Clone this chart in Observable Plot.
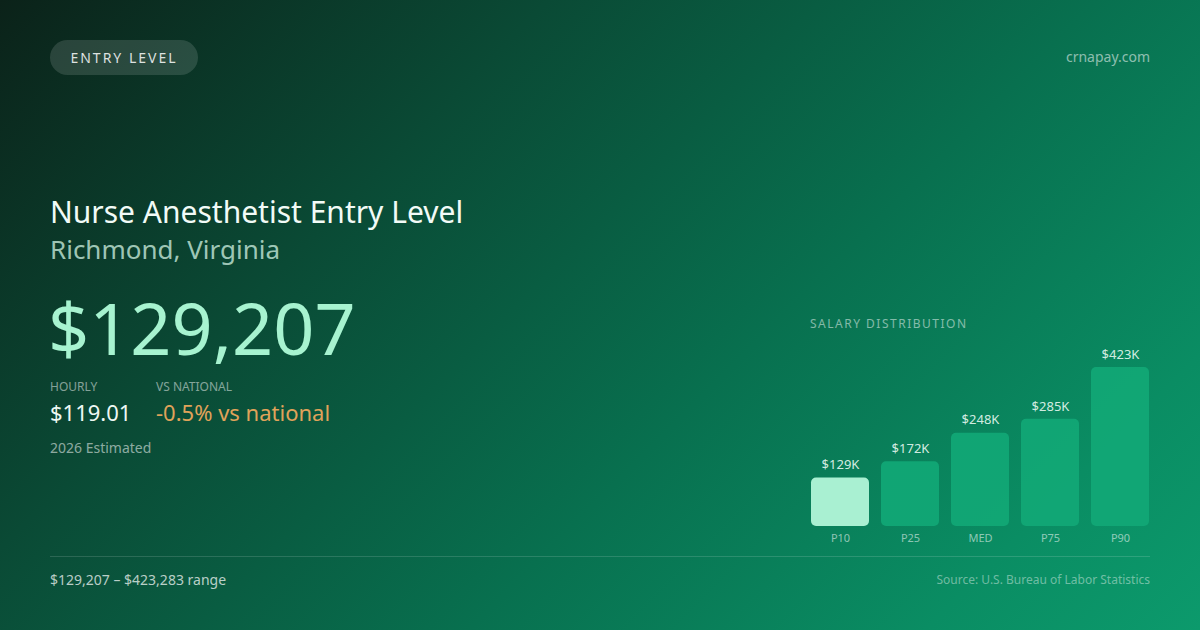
<!DOCTYPE html>
<html>
<head>
<meta charset="utf-8">
<script src="https://cdn.jsdelivr.net/npm/d3@7"></script>
<script src="https://cdn.jsdelivr.net/npm/@observablehq/plot@0.6"></script>
<style>
  html, body { margin:0; padding:0; }
  body { width:1200px; height:630px; overflow:hidden; font-family:"Noto Sans", sans-serif; }
  #card { position:relative; width:1200px; height:630px;
    background: linear-gradient(135deg, #0b2219 0%, #0a4a35 30%, #08704f 60%, #0a8d63 85%, #0c9a6c 100%); }
  .abs { position:absolute; white-space:nowrap; line-height:1; }
  #badge { left:50px; top:40px; width:148px; height:35px; border-radius:18px; background:rgba(255,255,255,0.13);
    color:rgba(255,255,255,0.85); font-size:14px; letter-spacing:2px; display:flex; align-items:center; justify-content:center; }
  #chart { position:absolute; left:810px; top:340px; }
</style>
</head>
<body>
<div id="card">
  <div id="badge" class="abs">ENTRY LEVEL</div>
  <div class="abs" style="right:50px; top:50px; font-size:14px; color:rgba(255,255,255,0.55);">crnapay.com</div>
  <div class="abs" style="left:50px; top:197px; font-size:30px; color:#f2fbf7;">Nurse Anesthetist Entry Level</div>
  <div class="abs" style="left:50px; top:236px; font-size:26px; color:rgba(200,235,220,0.8);">Richmond, Virginia</div>
  <div class="abs" style="left:48px; top:291px; font-size:72px; color:#a7f3d0;">$129,207</div>
  <div class="abs" style="left:50px; top:381px; font-size:12px; color:rgba(255,255,255,0.5);">HOURLY</div>
  <div class="abs" style="left:156px; top:381px; font-size:12px; color:rgba(255,255,255,0.5);">VS NATIONAL</div>
  <div class="abs" style="left:50px; top:401px; font-size:22px; color:#eef8f3;">$119.01</div>
  <div class="abs" style="left:156px; top:401px; font-size:22px; color:#e0a35a;">-0.5% vs national</div>
  <div class="abs" style="left:50px; top:441px; font-size:14px; color:rgba(255,255,255,0.55);">2026 Estimated</div>
  <div class="abs" style="left:810px; top:318px; font-size:12px; letter-spacing:1.5px; color:rgba(255,255,255,0.5);">SALARY DISTRIBUTION</div>
  <div id="chart"></div>
  <div class="abs" style="left:50px; top:556px; width:1100px; height:1px; background:rgba(255,255,255,0.14);"></div>
  <div class="abs" style="left:50px; top:573px; font-size:14px; color:rgba(255,255,255,0.72);">$129,207 – $423,283 range</div>
  <div class="abs" style="right:50px; top:574px; font-size:12px; color:rgba(255,255,255,0.42);">Source: U.S. Bureau of Labor Statistics</div>
</div>
<script>
const percentiles = ["P10", "P25", "MED", "P75", "P90"];
const salariesK = [129, 172, 248, 285, 423];
const valueLabels = ["$129K", "$172K", "$248K", "$285K", "$423K"];
const highlight = "P10";

const data = percentiles.map((p, i) => ({p, v: salariesK[i], label: valueLabels[i]}));

const chart = Plot.plot({
  width: 340,
  height: 210,
  marginTop: 27,
  marginBottom: 24,
  marginLeft: 0,
  marginRight: 0,
  style: {background: "transparent", fontFamily: "'Noto Sans', sans-serif", overflow: "visible", color: "rgba(255,255,255,0.55)"},
  x: {domain: percentiles, paddingInner: 0.17, paddingOuter: 0, label: null},
  y: {domain: [0, 423], axis: null},
  marks: [
    Plot.barY(data.filter(d => d.p !== highlight), {x: "p", y: "v", fill: "#12a877", fillOpacity: 0.9, rx: 5}),
    Plot.barY(data.filter(d => d.p === highlight), {x: "p", y: "v", fill: "#a9f0d2", rx: 5}),
    Plot.text(data, {x: "p", y: "v", text: "label", dy: -13, fill: "rgba(235,250,243,0.9)", fontSize: 13}),
    Plot.axisX({tickSize: 0, tickPadding: 8, fontSize: 11, label: null})
  ]
});
document.getElementById("chart").appendChild(chart);
</script>
</body>
</html>
